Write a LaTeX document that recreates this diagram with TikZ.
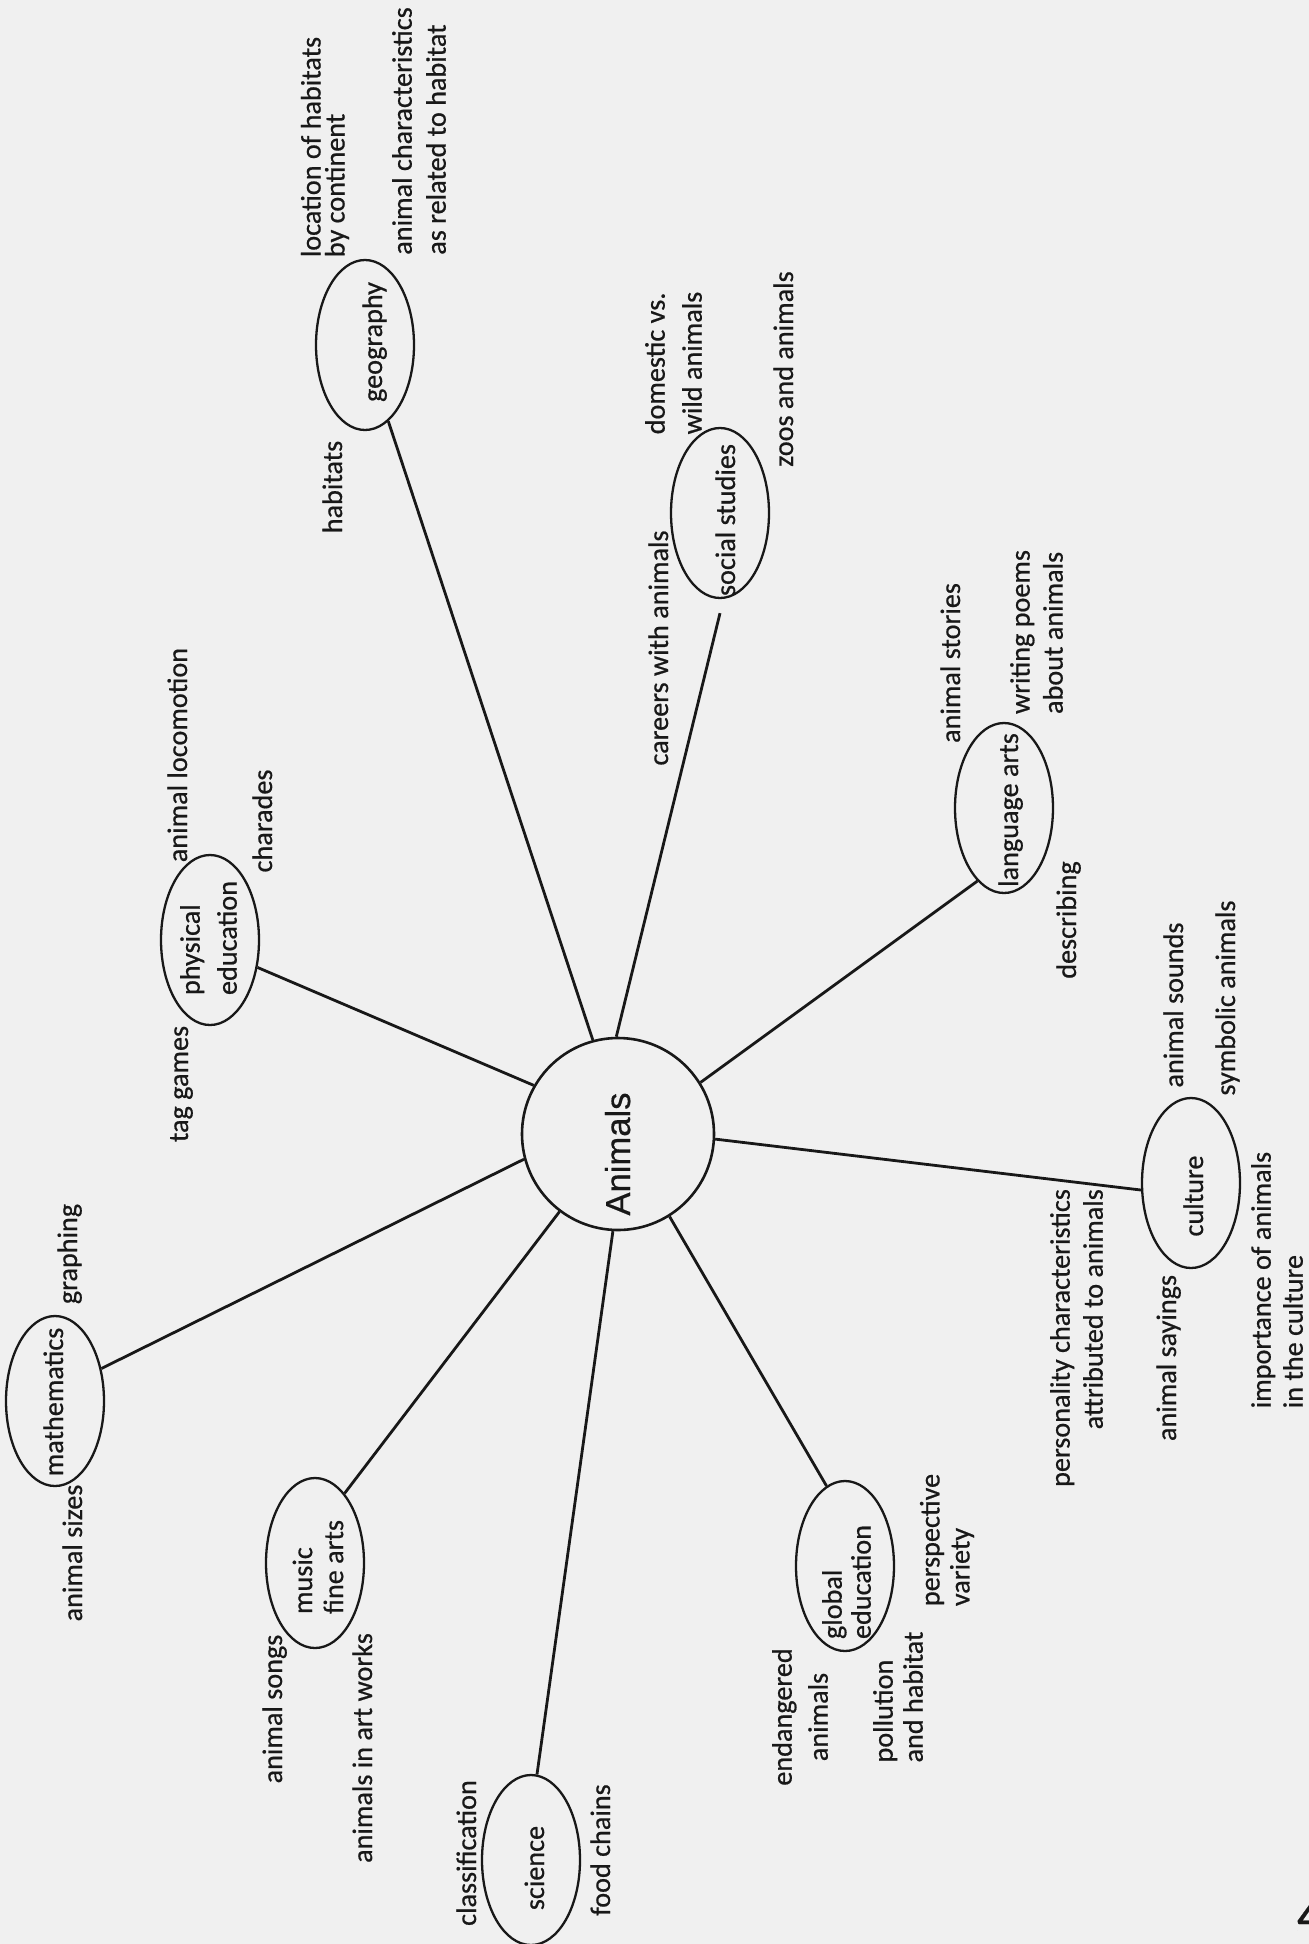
\documentclass[tikz,border=0pt]{standalone}
\usepackage{fontspec}
\setmainfont{Carlito}[FakeBold=0.6]
\newfontfamily\arialfont{Liberation Sans}[FakeBold=0.5]
\usetikzlibrary{shapes.geometric}
\definecolor{paper}{RGB}{240,240,240}
\definecolor{ink}{RGB}{24,24,24}
\begin{document}
\begin{tikzpicture}[x=0.5pt,y=-0.5pt,
  lbl/.style={rotate=90, inner sep=0, text=ink, font=\fontsize{14.1}{#1}\selectfont},
  lbl/.default=16,
  one/.style={lbl, anchor=base},
  ell/.style={draw=ink, ellipse, line width=1.15pt, inner sep=0, minimum width=49pt, minimum height=85pt},
  spoke/.style={draw=ink, line width=1.4pt}]
\fill[paper] (0,0) rectangle (1309,1944);
\useasboundingbox (0,0) rectangle (1309,1944);

% central circle
\node[circle, draw=ink, line width=1.3pt, minimum size=96pt, inner sep=0] (animals) at (618,1134) {};
\node[rotate=90, anchor=base, inner sep=0, text=ink, font=\arialfont\fontsize{17.3}{20}\selectfont] (animalsT) at (630,1154) {Animals};

% topic ellipses
\node[ell] (geo) at (365,345) {};
\node[ell] (phys) at (210,940) {};
\node[ell] (social) at (720,513) {};
\node[ell] (lang) at (1004,808) {};
\node[ell] (culture) at (1191,1183) {};
\node[ell] (glob) at (845,1566) {};
\node[ell] (sci) at (531,1860) {};
\node[ell] (music) at (315,1563) {};
\node[ell] (math) at (55,1401) {};

% spokes
\draw[spoke] (animals.105) -- (geo.287);
\draw[spoke] (animals.91) -- ([yshift=-7pt]social.south);
\draw[spoke] (animals.32.5) -- (lang.250);
\draw[spoke] (animals.357.6) -- (culture.188);
\draw[spoke] (animals.302.7) -- (glob.103);
\draw[spoke] (animals.267) -- (sci.86);
\draw[spoke] (animals.233.7) -- (music.67);
\draw[spoke] (animals.195) -- (math.35);
\draw[spoke] (animals.150) -- (phys.330);

% texts inside ellipses
\node[one] (geoT) at (382,342) {geography};
\node[lbl=18.5, align=left] (physT) at (208.5,938) {physical\\education};
\node[one] (socT) at (735,520) {social studies};
\node[one] (langT) at (1018,810) {language arts};
\node[one] (cultT) at (1203,1196) {culture};
\node[lbl=14.5, align=left] (globT) at (846.5,1582) {global\\education};
\node[one] (sciT) at (544,1868) {science};
\node[lbl=15.5, align=left] (musicT) at (318,1567) {music\\fine arts};
\node[one] (mathT) at (63,1402) {mathematics};

% labels
\node[lbl=12, align=left] (locT) at (325,147) {location of habitats\\by continent};
\node[lbl=17, align=left] (charT) at (419,131) {animal characteristics\\as related to habitat};
\node[one] (habT) at (342,487) {habitats};
\node[lbl=18.5, align=left] (domT) at (673.5,363) {domestic vs.\\wild animals};
\node[one] (zooT) at (793,369) {zoos and animals};
\node[one] (carT) at (668,648) {careers with animals};
\node[one] (locoT) at (187,755) {animal locomotion};
\node[one] (charaT) at (272,821) {charades};
\node[one] (tagT) at (188,1084) {tag games};
\node[one] (graphT) at (77,1254) {graphing};
\node[one] (sizeT) at (82,1553) {animal sizes};
\node[one] (songT) at (282,1709) {animal songs};
\node[one] (artT) at (372,1748) {animals in art works};
\node[one] (classT) at (476,1853) {classification};
\node[one] (foodT) at (610,1850) {food chains};
\node[lbl=18, align=center] (endT) at (800,1717) {endangered\\animals};
\node[lbl=15, align=left] (pollT) at (898,1697) {pollution\\and habitat};
\node[lbl=15, align=left] (perspT) at (947,1540) {perspective\\variety};
\node[one] (storT) at (960,663) {animal stories};
\node[lbl=16.5, align=left] (poemT) at (1036.5,632) {writing poems\\about animals};
\node[one] (descT) at (1076,920) {describing};
\node[one] (soundT) at (1183,1005) {animal sounds};
\node[one] (symbT) at (1235,998) {symbolic animals};
\node[lbl=16, align=left] (impT) at (1277,1280) {importance of animals\\in the culture};
\node[one] (sayT) at (1176,1358) {animal sayings};
\node[lbl=16.5, align=right] (persT) at (1076.5,1338) {personality characteristics\\attributed to animals};
\node[anchor=base west, inner sep=0, text=ink, font=\bfseries\fontsize{19}{22}\selectfont] (pageno) at (1297,1930) {4};
\end{tikzpicture}
\end{document}
